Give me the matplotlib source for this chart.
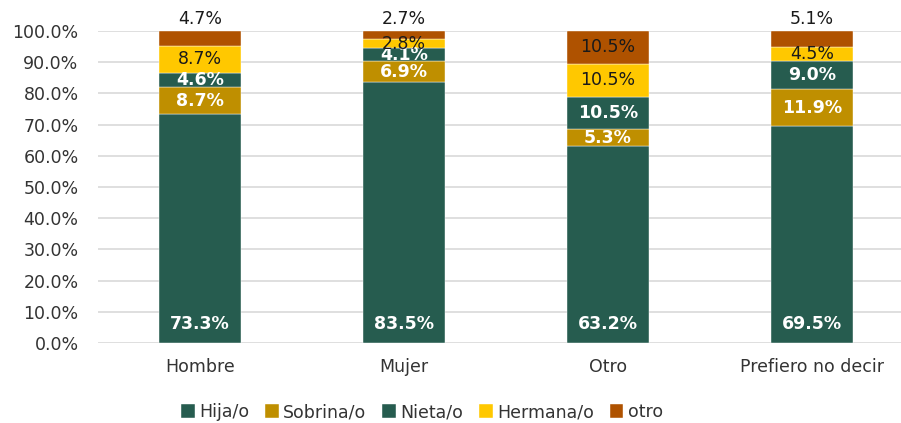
import numpy as np
import matplotlib.pyplot as plt

categorias = ['Hombre', 'Mujer', 'Otro', 'Prefiero no decir']
hija = [73.3, 83.5, 63.2, 69.5]
sobrina = [8.7, 6.9, 5.3, 11.9]
nieta = [4.6, 4.1, 10.5, 9.0]
hermana = [8.7, 2.8, 10.5, 4.5]
otro = [4.7, 2.7, 10.5, 5.1]

series = [('Hija/o', hija, '#265C4F', 'white', 'bold'),
          ('Sobrina/o', sobrina, '#BF8F00', 'white', 'bold'),
          ('Nieta/o', nieta, '#265C4F', 'white', 'bold'),
          ('Hermana/o', hermana, '#FFC800', '#1a1a1a', 'normal'),
          ('otro', otro, '#AF5200', '#1a1a1a', 'normal')]

plt.rcParams['font.family'] = ['DejaVu Sans']
fig = plt.figure(figsize=(9.01, 4.23), dpi=100)
ax = fig.add_axes([98 / 901, 1 - 343 / 423, (901 - 98) / 901, 312 / 423])

x = np.arange(len(categorias))
ancho = 0.4
base = np.zeros(len(categorias))
for nombre, vals, color, tcolor, peso in series:
    vals = np.array(vals)
    ax.bar(x, vals, ancho, bottom=base, color=color, label=nombre,
           edgecolor='white', linewidth=0.3, zorder=2)
    for i, v in enumerate(vals):
        if nombre == 'Hija/o':
            ax.annotate(f'{v:.1f}%', (x[i], 0), xytext=(0, 14), textcoords='offset points',
                        ha='center', va='center', color=tcolor, fontsize=12.5, fontweight=peso)
        elif nombre == 'otro' and v < 6:
            ax.annotate(f'{v:.1f}%', (x[i], 100), xytext=(0, 2), textcoords='offset points',
                        ha='center', va='bottom', color=tcolor, fontsize=12.5, fontweight=peso,
                        annotation_clip=False)
        else:
            ax.text(x[i], base[i] + v / 2, f'{v:.1f}%', ha='center', va='center',
                    color=tcolor, fontsize=12.5, fontweight=peso, clip_on=False)
    base += vals

ax.set_xlim(-0.5, 3 + (901 - 812) / 204)
ax.set_ylim(0, 100)
ax.set_yticks(np.arange(0, 101, 10))
ax.set_yticklabels([f'{t:.1f}%' for t in np.arange(0, 101, 10)])
ax.set_xticks(x)
ax.set_xticklabels(categorias)
ax.tick_params(axis='y', length=0, pad=14, labelsize=12.5, colors='#333333')
ax.tick_params(axis='x', length=0, pad=11, labelsize=12.5, colors='#333333')
ax.grid(axis='y', color='#D9D9D9', linewidth=1.2, zorder=0)
ax.set_axisbelow(True)
for s in ax.spines.values():
    s.set_visible(False)

handles, labels = ax.get_legend_handles_labels()
fig.legend(handles, labels, loc='center', bbox_to_anchor=(422 / 901, 1 - 412 / 423),
           ncol=5, frameon=False, fontsize=12.5, handlelength=0.8, handleheight=0.8,
           handletextpad=0.25, columnspacing=0.9, labelcolor='#333333')

fig.savefig('out.png', dpi=100)
